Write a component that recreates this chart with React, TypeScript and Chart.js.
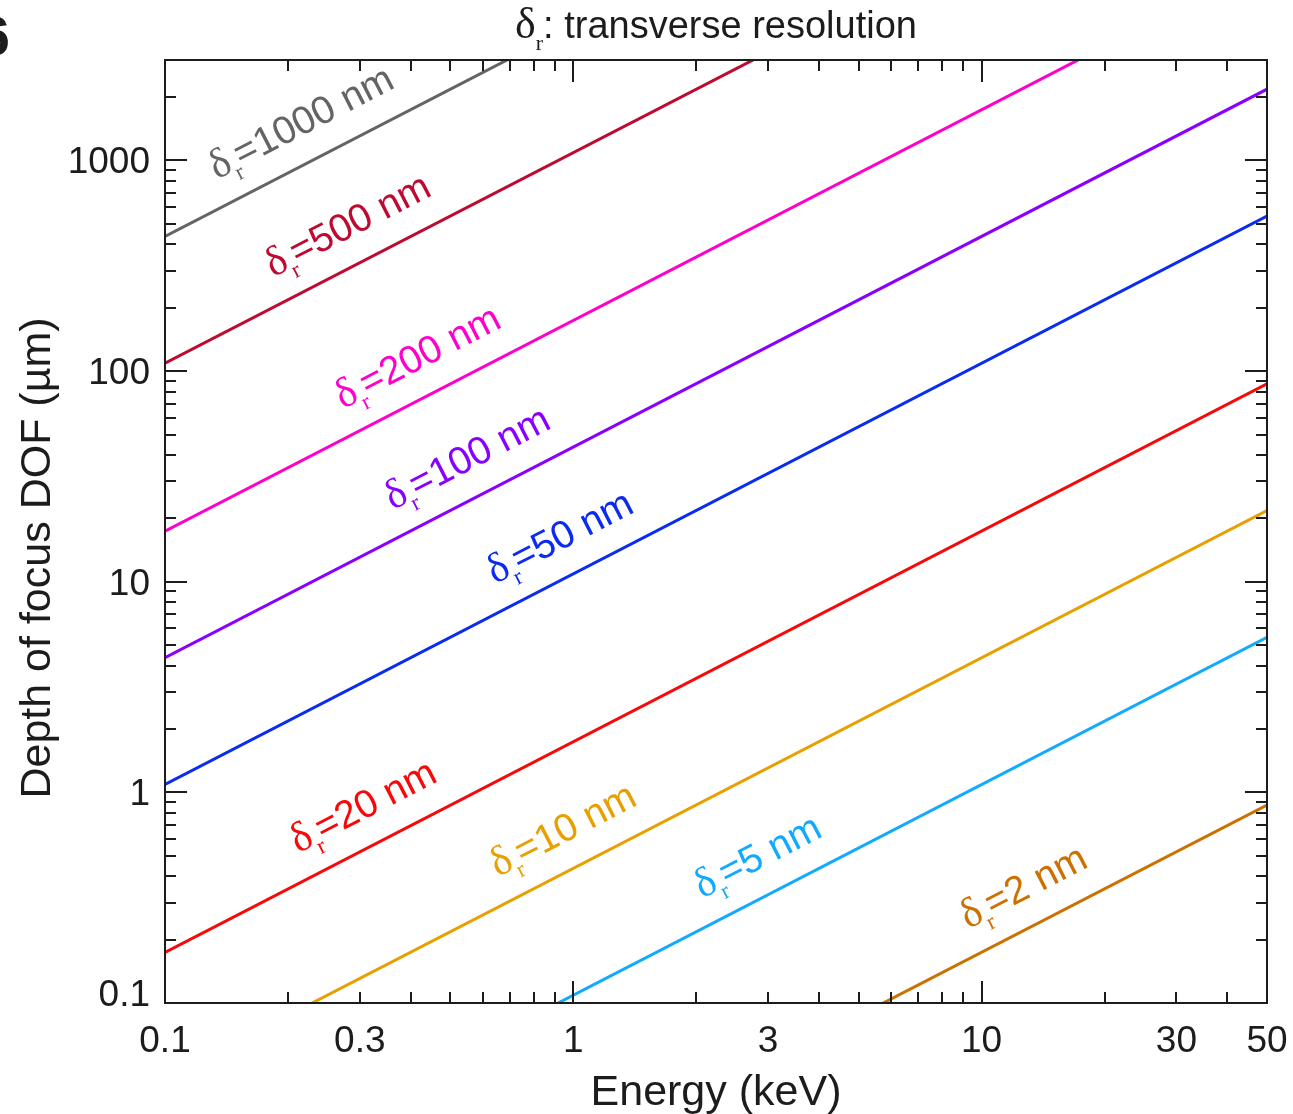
import { useEffect, useRef } from "react";
import { Chart, registerables } from "chart.js";

Chart.register(...registerables);

// ---- data ----
const energyEndpoints = [0.1, 50]; // keV
const resolutionsNm = [1000, 500, 200, 100, 50, 20, 10, 5, 2];
const dofAtLowEnergy = [436, 109, 17.4, 4.36, 1.09, 0.174, 0.0436, 0.0109, 0.00174]; // µm at 0.1 keV
const dofAtHighEnergy = [218000, 54400, 8710, 2180, 544, 87.1, 21.8, 5.44, 0.871]; // µm at 50 keV
const lineColors = [
  "#646464",
  "#be0a30",
  "#ff00cc",
  "#8a00ff",
  "#0a2cf0",
  "#f80808",
  "#e8a000",
  "#12aaff",
  "#cc7000",
];
// energy (keV) at which each in-plot label starts
const labelEnergies = [0.134, 0.184, 0.273, 0.361, 0.643, 0.212, 0.654, 2.07, 9.27];

const xTickLabels = [0.1, 0.3, 1, 3, 10, 30, 50];
const xMajorTicks = [0.1, 1, 10];
const xMinorTicks = [0.2, 0.3, 0.4, 0.5, 0.6, 0.7, 0.8, 0.9, 2, 3, 4, 5, 6, 7, 8, 9, 20, 30, 40];
const yTickLabels = [0.1, 1, 10, 100, 1000];
const yMajorTicks = [0.1, 1, 10, 100, 1000];
const yMinorTicks = [
  0.2, 0.3, 0.4, 0.5, 0.6, 0.7, 0.8, 0.9,
  2, 3, 4, 5, 6, 7, 8, 9,
  20, 30, 40, 50, 60, 70, 80, 90,
  200, 300, 400, 500, 600, 700, 800, 900,
  2000,
];
const xRange = [0.1, 50];
const yRange = [0.1, 3000];

const SANS = '"Liberation Sans", Arial, Helvetica, sans-serif';
const SERIF = '"Liberation Serif", "Times New Roman", serif';
const INK = "#1c1c1c";

const decorPlugin = {
  id: "decor",
  afterDatasetsDraw(chart: any) {
    const { ctx, chartArea: a, scales } = chart;
    const xs = scales.x;
    const ys = scales.y;
    ctx.save();

    // ---- in-plot labels along lines ----
    resolutionsNm.forEach((nm, i) => {
      const x0 = xs.getPixelForValue(energyEndpoints[0]);
      const y0 = ys.getPixelForValue(dofAtLowEnergy[i]);
      const x1 = xs.getPixelForValue(energyEndpoints[1]);
      const y1 = ys.getPixelForValue(dofAtHighEnergy[i]);
      const ang = Math.atan2(y1 - y0, x1 - x0);
      const lx = xs.getPixelForValue(labelEnergies[i]);
      const ly = y0 + ((lx - x0) * (y1 - y0)) / (x1 - x0) - 30;
      ctx.save();
      ctx.translate(lx, ly);
      ctx.rotate(ang);
      ctx.fillStyle = lineColors[i];
      ctx.textAlign = "left";
      ctx.textBaseline = "alphabetic";
      ctx.font = `42px ${SERIF}`;
      ctx.fillText("δ", 0, 0);
      let w = ctx.measureText("δ").width;
      ctx.font = `23px ${SERIF}`;
      ctx.fillText("r", w, 11);
      w += ctx.measureText("r").width;
      ctx.font = `39px ${SANS}`;
      ctx.fillText(`=${nm} nm`, w, 0);
      ctx.restore();
    });

    // ---- frame ----
    ctx.strokeStyle = INK;
    ctx.lineWidth = 2;
    ctx.strokeRect(a.left, a.top, a.right - a.left, a.bottom - a.top);

    // ---- ticks (inward, all four sides) ----
    ctx.lineWidth = 2;
    const xTick = (v: number, len: number) => {
      const px = Math.round(xs.getPixelForValue(v));
      ctx.beginPath();
      ctx.moveTo(px, a.bottom);
      ctx.lineTo(px, a.bottom - len);
      ctx.moveTo(px, a.top);
      ctx.lineTo(px, a.top + len);
      ctx.stroke();
    };
    const yTick = (v: number, len: number) => {
      const py = Math.round(ys.getPixelForValue(v));
      ctx.beginPath();
      ctx.moveTo(a.left, py);
      ctx.lineTo(a.left + len, py);
      ctx.moveTo(a.right, py);
      ctx.lineTo(a.right - len, py);
      ctx.stroke();
    };
    xMajorTicks.forEach((v) => xTick(v, 22));
    xMinorTicks.forEach((v) => xTick(v, 11));
    yMajorTicks.forEach((v) => yTick(v, 22));
    yMinorTicks.forEach((v) => yTick(v, 11));

    // ---- tick labels ----
    ctx.fillStyle = INK;
    ctx.font = `37px ${SANS}`;
    ctx.textBaseline = "alphabetic";
    ctx.textAlign = "center";
    xTickLabels.forEach((v) => {
      ctx.fillText(String(v), xs.getPixelForValue(v), 1052);
    });
    ctx.textAlign = "right";
    yTickLabels.forEach((v) => {
      const py = ys.getPixelForValue(v);
      ctx.fillText(String(v), 150, Math.min(py + 13, a.bottom + 3));
    });

    // ---- axis titles ----
    ctx.font = `43px ${SANS}`;
    ctx.textAlign = "center";
    ctx.fillText("Energy (keV)", (a.left + a.right) / 2, 1105);
    ctx.save();
    ctx.translate(50, 558);
    ctx.rotate(-Math.PI / 2);
    ctx.fillText("Depth of focus DOF (µm)", 0, 0);
    ctx.restore();

    // ---- title ----
    ctx.textAlign = "left";
    ctx.font = `44px ${SERIF}`;
    const wd = ctx.measureText("δ").width;
    ctx.font = `22px ${SERIF}`;
    const wr = ctx.measureText("r").width;
    ctx.font = `38px ${SANS}`;
    const rest = ": transverse resolution";
    const wt = ctx.measureText(rest).width;
    const total = wd + wr + wt;
    let tx = (a.left + a.right) / 2 - total / 2;
    ctx.font = `44px ${SERIF}`;
    ctx.fillText("δ", tx, 38);
    tx += wd;
    ctx.font = `22px ${SERIF}`;
    ctx.fillText("r", tx, 50);
    tx += wr;
    ctx.font = `38px ${SANS}`;
    ctx.fillText(rest, tx, 38);

    // ---- panel letter (cut off at the edge) ----
    ctx.font = `bold 56px ${SANS}`;
    ctx.textAlign = "right";
    ctx.fillText("6", 10, 55);

    ctx.restore();
  },
};

export default function App() {
  const ref = useRef<HTMLCanvasElement | null>(null);

  useEffect(() => {
    const canvas = ref.current;
    if (!canvas) return;
    const datasets = resolutionsNm.map((nm, i) => ({
      label: `δr=${nm} nm`,
      data: [
        { x: energyEndpoints[0], y: dofAtLowEnergy[i] },
        { x: energyEndpoints[1], y: dofAtHighEnergy[i] },
      ],
      borderColor: lineColors[i],
      backgroundColor: lineColors[i],
      borderWidth: 3,
      pointRadius: 0,
      fill: false,
      tension: 0,
      clip: 0,
    }));
    const chart = new Chart(canvas, {
      type: "line",
      data: { datasets },
      options: {
        animation: false,
        responsive: false,
        devicePixelRatio: 1,
        layout: { padding: { left: 165, top: 60, right: 26, bottom: 111 } },
        plugins: { legend: { display: false }, tooltip: { enabled: false }, title: { display: false } },
        scales: {
          x: { type: "logarithmic", min: xRange[0], max: xRange[1], display: false },
          y: { type: "logarithmic", min: yRange[0], max: yRange[1], display: false },
        },
      },
      plugins: [decorPlugin],
    });
    return () => chart.destroy();
  }, []);

  return (
    <div style={{ position: "fixed", left: 0, top: 0, width: 1293, height: 1114, background: "#fff" }}>
      <canvas ref={ref} width={1293} height={1114} style={{ display: "block" }} />
    </div>
  );
}
